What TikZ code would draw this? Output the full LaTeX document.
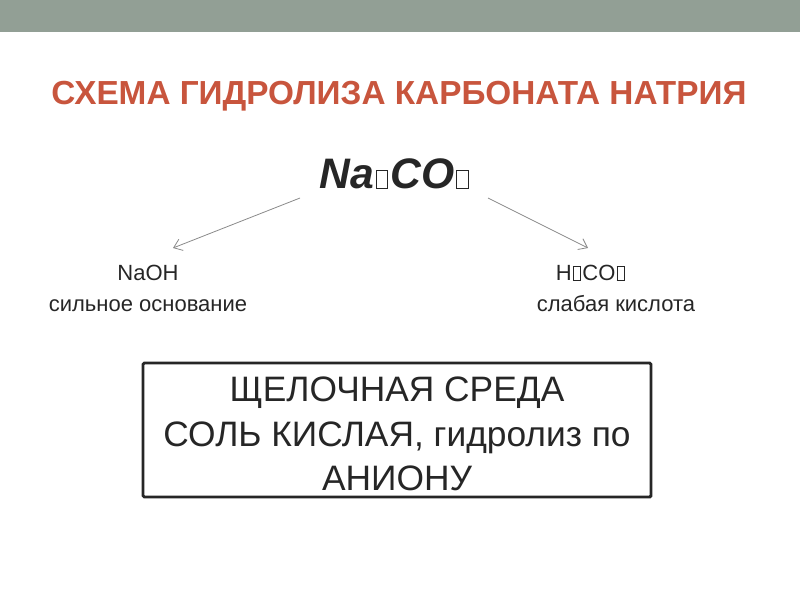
\documentclass[tikz,border=0pt]{standalone}
\usepackage{fontspec}
\setmainfont{Liberation Sans}
\usetikzlibrary{arrows.meta,positioning}

\definecolor{bandgray}{HTML}{929F95}
\definecolor{titlered}{HTML}{C8553D}
\definecolor{arrowgray}{HTML}{8A8A8A}
\definecolor{framegray}{HTML}{262626}

% empty box for a glyph the font lacks
\newcommand\tofu[2]{\kern0.05em{\setlength\fboxsep{0pt}\setlength\fboxrule{0.7pt}\fbox{\rule{0pt}{#1}\hspace{#2}}}\kern0.05em}

\tikzset{
    label/.style={font=\fontsize{16.5}{20}\selectfont, text=black!85, anchor=base},
    split/.style={draw=arrowgray, line width=0.6pt, -{Straight Barb[length=6pt, width=9pt]}},
}

\begin{document}
\begin{tikzpicture}[x=0.75pt, y=-0.75pt]
    \useasboundingbox (0,0) rectangle (800,600);
    \fill[bandgray] (0,0) rectangle (800,32);

    \node[anchor=base, text=titlered, font=\fontsize{25}{30}\selectfont\bfseries] (title) at (399,104) {СХЕМА ГИДРОЛИЗА КАРБОНАТА НАТРИЯ};

    \node[anchor=base, text=black!85, font=\fontsize{32}{38}\selectfont\bfseries\itshape] (salt) at (395,188)
        {Na\tofu{0.4em}{0.24em}CO\tofu{0.4em}{0.24em}};

    \node[label] (base) at (148,280) {NaOH};
    \node[label] (basename) at (148,311) {сильное основание};
    \node[label] (acid) at (591,280) {H\tofu{0.6em}{0.3em}CO\tofu{0.6em}{0.3em}};
    \node[label] (acidname) at (616,311) {слабая кислота};

    \coordinate (lstart) at (300,198);
    \coordinate (rstart) at (488,198);
    \draw[split] (lstart) -- (173,248);
    \draw[split] (rstart) -- (588,248);

    \draw[framegray, line width=2.2pt, rounded corners=1pt] (143,363) rectangle (651,497);
    \node[align=center, text=black!85, font=\fontsize{26.5}{33.5}\selectfont] (medium) at (397,434)
        {ЩЕЛОЧНАЯ СРЕДА\\СОЛЬ КИСЛАЯ, гидролиз по\\АНИОНУ};
\end{tikzpicture}
\end{document}
